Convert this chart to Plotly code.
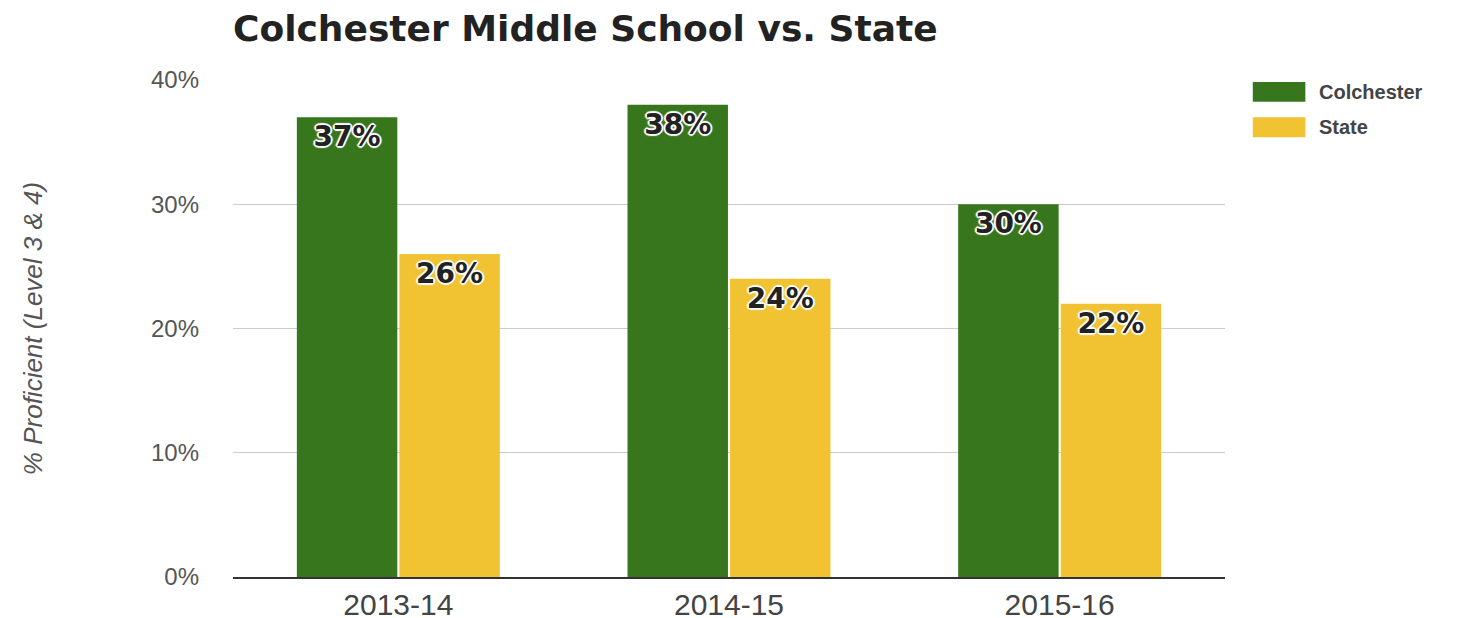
import plotly.graph_objects as go

years = ["2013-14", "2014-15", "2015-16"]
colchester = [37, 38, 30]
state = [26, 24, 22]
series_names = ["Colchester", "State"]
colors = ["#38761d", "#f1c232"]

halo = ("-1px -1px 0 #fff, 1px -1px 0 #fff, -1px 1px 0 #fff, 1px 1px 0 #fff, "
        "0 -2px 1px #fff, 0 2px 1px #fff, -2px 0 1px #fff, 2px 0 1px #fff")

fig = go.Figure()
for name, vals, col in zip(series_names, [colchester, state], colors):
    fig.add_trace(go.Bar(
        x=years, y=vals, name=name,
        marker=dict(color=col, line=dict(width=0)),
        text=[f"{v}%" for v in vals],
        textposition="inside", insidetextanchor="end", textangle=0,
        constraintext="none",
        textfont=dict(family="DejaVu Sans", size=28, color="#222222", weight="bold", shadow=halo),
        showlegend=False,
    ))

# custom legend with wide swatches (as in the reference)
leg_x0, leg_x1, leg_tx = 1.028, 1.081, 1.093
leg_y = [0.976, 0.905]
leg_h = 0.040
for name, col, yc in zip(series_names, colors, leg_y):
    fig.add_shape(type="rect", xref="paper", yref="paper",
                  x0=leg_x0, x1=leg_x1, y0=yc - leg_h / 2, y1=yc + leg_h / 2,
                  fillcolor=col, line=dict(width=0))
    fig.add_annotation(xref="paper", yref="paper", x=leg_tx, y=yc, text=f"<b>{name}</b>",
                       showarrow=False, xanchor="left", yanchor="middle",
                       font=dict(family="Liberation Sans", size=20, color="#444444"))

fig.update_layout(
    width=1466, height=618,
    margin=dict(l=225, r=249, t=72, b=49),
    paper_bgcolor="white", plot_bgcolor="white",
    barmode="group", bargap=0.38, bargroupgap=0.02,
    showlegend=False,
    title=dict(text="<b>Colchester Middle School vs. State</b>", x=225/1466, xanchor="left",
               y=1 - 20/618, yanchor="middle",
               font=dict(family="DejaVu Sans", size=36, color="#222222")),
    xaxis=dict(showgrid=False, showline=True, linecolor="#333333", linewidth=1.5,
               tickfont=dict(family="Liberation Sans", size=30, color="#444444"),
               ticks="", ticklabelstandoff=0, automargin=False),
    yaxis=dict(range=[0, 40], dtick=10, ticksuffix="%", showgrid=True, gridcolor="#cccccc",
               zeroline=False, showline=False, ticks="", automargin=False,
               tickfont=dict(family="Liberation Sans", size=24, color="#555555"),
               ticklabelstandoff=33,
               title=dict(text="<i>% Proficient (Level 3 & 4)</i>", standoff=100,
                          font=dict(family="Liberation Sans", size=26, color="#555555"))),
)

fig.write_html("out.html")
